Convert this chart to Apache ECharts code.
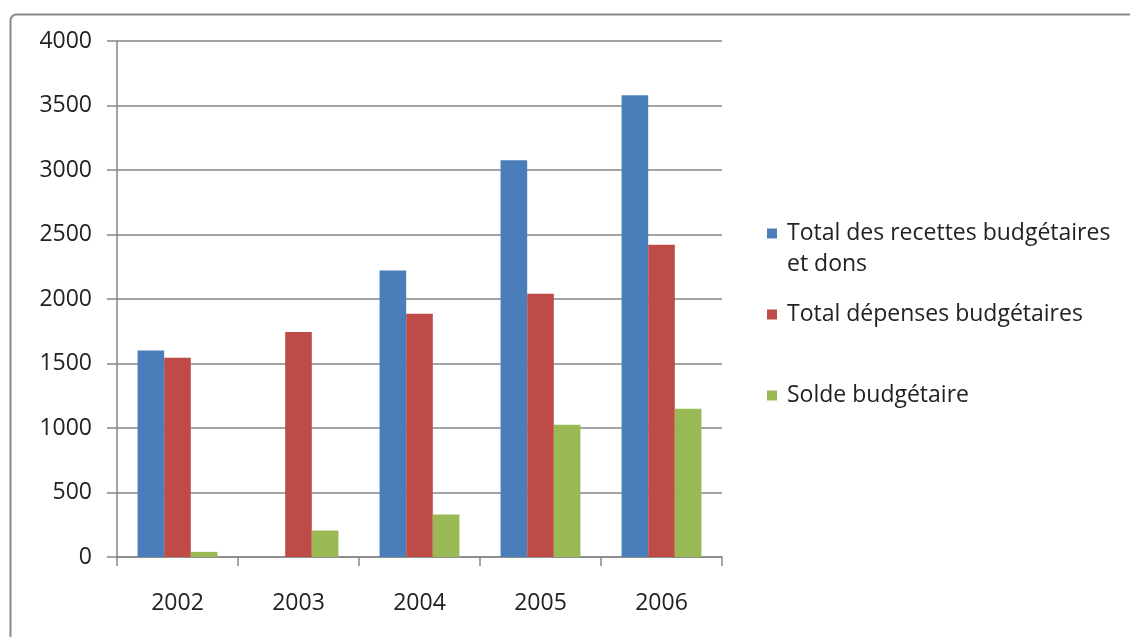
<!DOCTYPE html>
<html>
<head>
<meta charset="utf-8">
<script src="https://cdn.jsdelivr.net/npm/echarts@6/dist/echarts.min.js"></script>
<style>html,body{margin:0;padding:0;background:#fff;}#c{width:1130px;height:637px;}</style>
</head>
<body>
<div id="c"></div>
<script>
var categories = ['2002', '2003', '2004', '2005', '2006'];
var seriesNames = ['Total des recettes budgétaires et dons', 'Total dépenses budgétaires', 'Solde budgétaire'];
var recettes = [1600, null, 2220, 3075, 3580];
var depenses = [1545, 1745, 1885, 2040, 2420];
var solde = [40, 205, 330, 1025, 1150];
var yTicks = [0, 500, 1000, 1500, 2000, 2500, 3000, 3500, 4000];
var colors = ['#4a7ebb', '#be4b48', '#98b954'];

var FONT = 'Open Sans';
var FS = 23;
var chart = echarts.init(document.getElementById('c'));
function legendFor(i, top, extra) {
  return Object.assign({
    orient: 'vertical', left: 767, top: top, padding: 0,
    data: [seriesNames[i]],
    itemWidth: 10, itemHeight: 10, itemGap: 0,
    icon: 'rect', selectedMode: false,
    textStyle: { fontFamily: FONT, fontSize: FS, color: '#222', padding: [0, 0, 0, 5] }
  }, extra || {});
}
chart.setOption({
  animation: false,
  backgroundColor: '#fff',
  color: colors,
  graphic: [{
    type: 'rect', left: 8, top: 12, silent: true,
    shape: { width: 1140, height: 640, r: 6 },
    style: { fill: 'none', stroke: '#8a8a8a', lineWidth: 2 }
  }],
  grid: { left: 117, right: 408, top: 41, bottom: 80, containLabel: false },
  legend: [
    legendFor(0, 218, {
      itemHeight: 41,
      icon: 'path://M0,0h10v10h-10zM0,41',
      formatter: function () { return 'Total des recettes budgétaires\net dons'; },
      textStyle: { fontFamily: FONT, fontSize: FS, color: '#222', lineHeight: 31, padding: [0, 0, 0, 5] }
    }),
    legendFor(1, 303),
    legendFor(2, 384)
  ],
  xAxis: {
    type: 'category', data: categories,
    axisLine: { lineStyle: { color: '#868686', width: 1.5 } },
    axisTick: { show: true, length: 9, lineStyle: { color: '#868686', width: 1.5 } },
    axisLabel: { fontFamily: FONT, fontSize: FS, color: '#222', margin: 35 },
    splitLine: { show: false }
  },
  yAxis: {
    type: 'value', min: yTicks[0], max: yTicks[yTicks.length - 1], interval: 500,
    axisLine: { show: true, lineStyle: { color: '#868686', width: 1.5 } },
    axisTick: { show: true, length: 10, inside: false, lineStyle: { color: '#868686', width: 1.5 } },
    axisLabel: { fontFamily: FONT, fontSize: FS, color: '#222', margin: 25, formatter: function (v) { return String(v); } },
    splitLine: { show: true, lineStyle: { color: '#868686', width: 1.5 } }
  },
  series: [
    { name: seriesNames[0], type: 'bar', data: recettes, barGap: '0%', barCategoryGap: '34%' },
    { name: seriesNames[1], type: 'bar', data: depenses, barGap: '0%', barCategoryGap: '34%' },
    { name: seriesNames[2], type: 'bar', data: solde, barGap: '0%', barCategoryGap: '34%' }
  ]
});
</script>
</body>
</html>
